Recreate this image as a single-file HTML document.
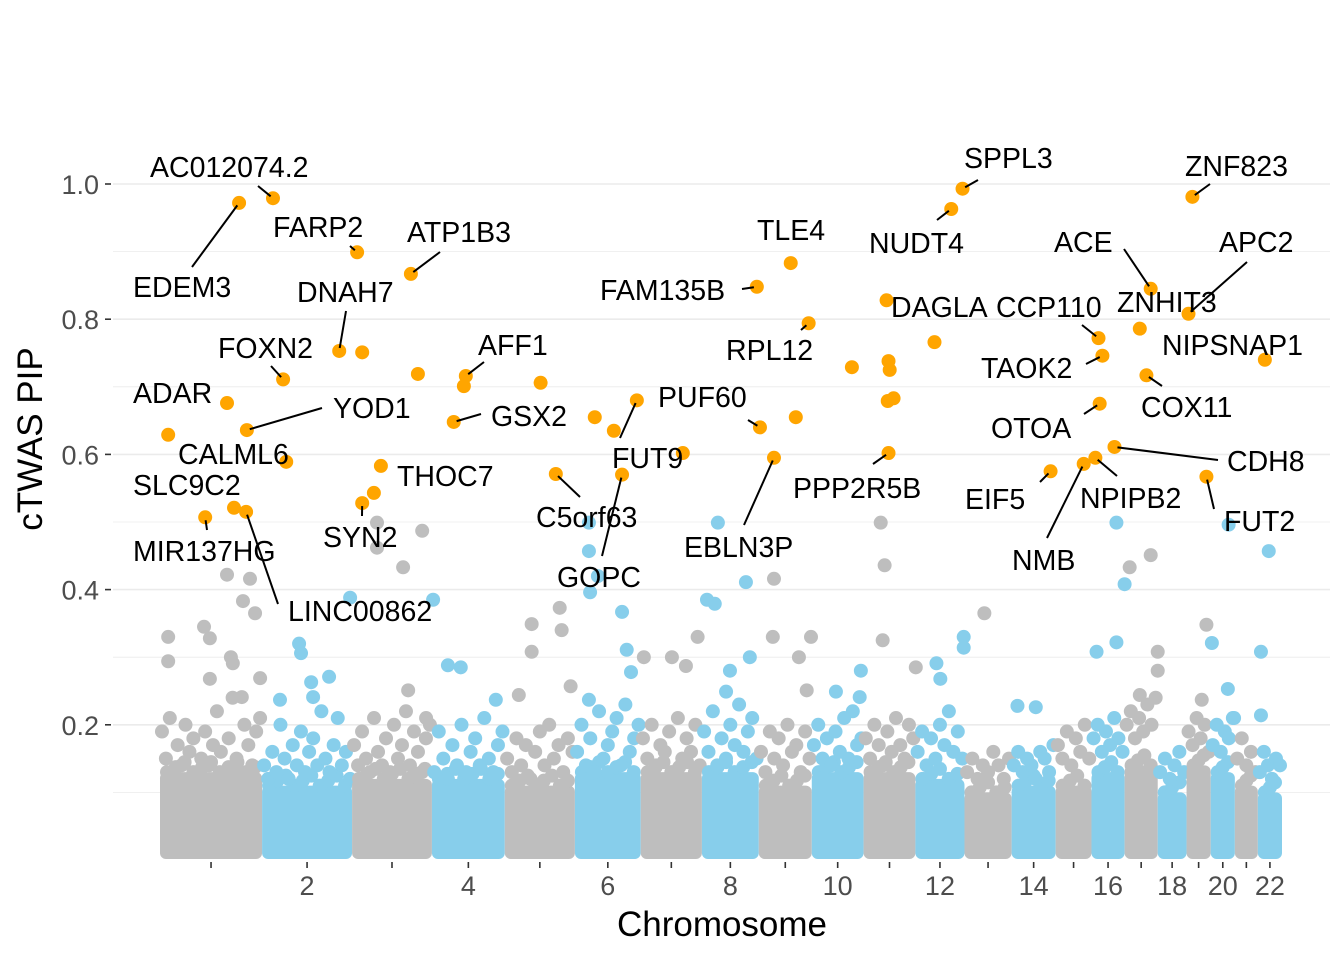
<!DOCTYPE html>
<html><head><meta charset="utf-8"><style>
html,body{margin:0;padding:0;background:#fff;}
svg{display:block;font-family:"Liberation Sans",sans-serif;}
</style></head><body>
<svg id="chart" width="1344" height="960" viewBox="0 0 1344 960" xmlns="http://www.w3.org/2000/svg">
<g id="grid"></g>
<g id="marks"></g>
<g id="labels"></g>
<g id="axes"></g>
<text x="722" y="936" font-size="35" text-anchor="middle" fill="#000">Chromosome</text>
<text transform="translate(42,439) rotate(-90)" font-size="35" text-anchor="middle" fill="#000">cTWAS PIP</text>
</svg>
<script>
const chrLen=[262,231,205,187,180,169,157,146,136,133,133,126,121,113,92,85,85,74,62,62,59,62];
const chrTickLabels=["","2","","4","","6","","8","","10","","12","","14","","16","","18","","20","","22"];
const yTicks=[0.2,0.4,0.6,0.8,1.0];
const yTickLabels=["0.2","0.4","0.6","0.8","1.0"];
const bandTop=[.13,.11,.12,.12,.11,.13,.13,.13,.11,.13,.13,.12,.10,.11,.11,.13,.14,.10,.14,.13,.11,.10];
const midVals=[
[.19,.15,.21,.13,.17,.14,.2,.16,.18,.13,.15,.19,.14,.17,.22,.16,.12,.18,.24,.15,.13,.2,.17,.14,.19,.21],
[.14,.12,.16,.13,.2,.15,.12,.17,.14,.19,.13,.16,.18,.14,.22,.15,.13,.17,.21,.14,.16,.12],
[.17,.14,.19,.15,.13,.21,.16,.14,.18,.13,.2,.15,.17,.22,.14,.19,.16,.13,.18,.2],
[.13,.19,.15,.12,.17,.14,.2,.13,.16,.18,.14,.21,.15,.13,.17,.19],
[.15,.13,.18,.14,.17,.12,.16,.19,.14,.2,.15,.17,.13,.18,.16],
[.16,.2,.14,.18,.13,.22,.15,.17,.19,.21,.14,.23,.16,.18,.2],
[.18,.15,.2,.14,.17,.16,.19,.13,.21,.15,.18,.16,.2,.14],
[.19,.16,.22,.14,.18,.15,.2,.17,.23,.16,.19,.21,.15],
[.16,.13,.19,.15,.18,.14,.2,.16,.17,.13,.19,.15],
[.17,.2,.15,.18,.14,.19,.16,.21,.15,.22,.17,.18],
[.18,.15,.2,.17,.14,.19,.16,.21,.17,.15,.2,.18],
[.16,.19,.14,.18,.15,.2,.17,.22,.16,.19,.15],
[.13,.15,.12,.14,.13,.16,.14,.12,.15],
[.14,.16,.13,.15,.14,.12,.16,.15,.13,.17],
[.17,.15,.19,.14,.18,.16,.2,.15],
[.18,.2,.16,.19,.17,.21,.18,.16],
[.2,.22,.18,.21,.19,.23,.2,.24],
[.13,.15,.12,.14,.16,.13],
[.19,.17,.21,.18,.2,.16],
[.17,.2,.16,.19,.18,.21],
[.15,.18,.14,.16,.13],
[.13,.16,.14,.12,.15,.14]
];
const bgChr=[3,3,3,3,1,1,1,1,1,1,1,1,1,1,1,2,4,6,6,6,6,6,8,8,8,8,11,11,16,17,16,17,20,22,22,20,19,16,16,13,12,12,11,10,9,9,9,8,8,8,2,2,5,5,5,5,2,2,2,2,4,4,6,6,7,7,7,7,9,10,11,12,12,14,14,17,17,17,20,19,22,20,10,9,5,6,5,4,3,3,1,1];
const bgPos=[64,64,180,131,172,231,213,244,21,21,113,128,128,182,187,226,3,36,36,39,59,121,41,113,13,33,44,54,64,13,85,67,46,28,8,3,51,64,13,51,124,124,49,126,134,39,36,123,72,62,95,100,69,69,141,146,172,46,131,126,41,74,144,133,8,80,146,116,103,62,134,54,64,15,62,85,85,39,44,39,8,60,123,123,169,36,36,164,144,190,210,257];
const bgPip=[.499,.462,.487,.433,.422,.416,.383,.365,.330,.294,.345,.328,.268,.300,.291,.388,.385,.499,.457,.396,.420,.367,.499,.411,.385,.379,.499,.436,.499,.433,.408,.451,.496,.457,.308,.321,.348,.322,.308,.365,.330,.314,.325,.280,.330,.416,.330,.300,.280,.249,.320,.306,.349,.308,.373,.340,.271,.237,.241,.263,.288,.285,.278,.311,.300,.300,.330,.287,.300,.249,.285,.291,.268,.228,.226,.308,.280,.244,.253,.237,.214,.210,.241,.251,.257,.237,.244,.237,.251,.210,.241,.269];
const sigChr=[1,2,3,3,2,3,2,3,4,4,5,1,1,4,1,2,3,3,3,1,1,1,6,6,6,7,5,6,8,9,9,9,9,9,10,11,11,11,11,11,11,12,12,12,19,17,19,17,16,16,22,17,16,16,14,15,16,19];
const sigPos=[203,28,13,151,198,26,54,169,87,82,92,172,223,56,21,62,74,56,26,190,221,116,51,159,100,108,131,121,141,82,128,95,39,3,103,59,64,67,62,77,64,49,92,121,15,67,5,39,18,28,18,56,21,59,100,72,10,51];
const sigPip=[.972,.979,.899,.867,.753,.751,.711,.719,.716,.701,.706,.676,.636,.648,.629,.589,.583,.543,.528,.521,.515,.507,.655,.680,.635,.602,.571,.570,.848,.883,.794,.655,.595,.640,.729,.828,.738,.725,.679,.683,.602,.766,.963,.993,.981,.845,.808,.786,.772,.746,.740,.717,.675,.611,.575,.586,.595,.567];
const sigGene=["EDEM3","AC012074.2","FARP2","ATP1B3","DNAH7","","FOXN2","","AFF1","","","ADAR","YOD1","GSX2","","CALML6","THOC7","","SYN2","SLC9C2","LINC00862","MIR137HG","","FUT9","","","C5orf63","GOPC","FAM135B","TLE4","RPL12","","EBLN3P","PUF60","","DAGLA","","","","","PPP2R5B","","NUDT4","SPPL3","ZNF823","ACE","APC2","ZNHIT3","CCP110","TAOK2","NIPSNAP1","COX11","OTOA","CDH8","EIF5","NMB","NPIPB2","FUT2"];
const labelLayout={
"EDEM3":[133,287,192,267],"AC012074.2":[150,167,258,186],"FARP2":[273,227,350,246],"ATP1B3":[407,232,440,252],
"DNAH7":[297,292,346,311],"FOXN2":[218,348,271,366],"AFF1":[478,345,484,362],"ADAR":[133,393,null,null],
"YOD1":[333,408,322,408],"GSX2":[491,416,481,414],"CALML6":[178,454,null,null],"THOC7":[397,476,null,null],
"SLC9C2":[133,485,null,null],"SYN2":[323,537,362,516],"MIR137HG":[133,551,207,530],"LINC00862":[288,611,278,604],
"C5orf63":[536,517,580,497],"GOPC":[557,577,602,556],"FUT9":[612,458,620,438],"PUF60":[658,397,748,420],
"FAM135B":[600,290,742,289],"TLE4":[757,230,null,null],"RPL12":[726,350,801,330],"EBLN3P":[684,547,744,525],
"PPP2R5B":[793,488,873,464],"NUDT4":[869,243,937,220],"SPPL3":[964,158,978,180],"DAGLA":[891,307,null,null],
"CCP110":[996,307,1082,325],"ACE":[1054,242,1124,249],"ZNHIT3":[1117,302,null,null],"APC2":[1219,242,1247,262],
"ZNF823":[1185,166,1210,184],"NIPSNAP1":[1162,345,null,null],"TAOK2":[981,368,1086,364],"COX11":[1141,407,1162,386],
"OTOA":[991,428,1084,414],"CDH8":[1227,461,1218,460],"EIF5":[965,499,1040,482],"NPIPB2":[1080,498,1117,476],
"FUT2":[1224,521,1214,509],"NMB":[1012,560,1047,538]
};
const NS="http://www.w3.org/2000/svg";
const X0=160,X1=1282,Y0=860,Y1=184;
const total=chrLen.reduce((a,b)=>a+b,0);
const chrStart=[];let acc=0;for(const l of chrLen){chrStart.push(acc);acc+=l;}
const xs=(c,p)=>X0+(chrStart[c-1]+p)/total*(X1-X0);
const ys=v=>Y0-(v)*(Y0-Y1);
const col=c=>c%2===0?"#87CEEB":"#BEBEBE";
function el(tag,attrs,parent){const e=document.createElementNS(NS,tag);for(const k in attrs)e.setAttribute(k,attrs[k]);parent.appendChild(e);return e;}
const grid=document.getElementById("grid"),marks=document.getElementById("marks"),labels=document.getElementById("labels"),axes=document.getElementById("axes");
for(let k=1;k<=10;k++){
  const v=k/10,major=k%2===0;
  const g=el("line",{x1:113,x2:1330,y1:ys(v),y2:ys(v),stroke:"#EBEBEB","stroke-width":major?1.6:0.8},grid);
  
  
}
yTicks.forEach((v,i)=>{
  const t=el("line",{x1:105,x2:111,y1:ys(v),y2:ys(v),stroke:"#333","stroke-width":1.6},axes);
  
  
  const tx=el("text",{x:99,y:ys(v)+10,"font-size":27,"text-anchor":"end",fill:"#4D4D4D"},axes);
  tx.textContent=yTickLabels[i];
  
  
});
chrLen.forEach((l,i)=>{
  const cx=xs(i+1,l/2);
  const t=el("line",{x1:cx,x2:cx,y1:862,y2:868,stroke:"#333","stroke-width":1.6},axes);
  
  
  if(chrTickLabels[i]){
    const tx=el("text",{x:cx,y:895,"font-size":27,"text-anchor":"middle",fill:"#4D4D4D"},axes);
    tx.textContent=chrTickLabels[i];
    
    
  }
});
const R=7;
chrLen.forEach((l,i)=>{
  const c=i+1,xa=xs(c,0),xb=xs(c,l);
  const top=ys(bandTop[i]);
  const r=el("rect",{x:xa,y:top,width:xb-xa,height:Y0-1-top,rx:6,fill:col(c)},marks);
  
  
  const n=Math.max(2,Math.round((xb-xa)/9));
  for(let j=0;j<n;j++){
    const d=el("circle",{cx:xa+R+(xb-xa-2*R)*j/(n-1),cy:top-(j%3)*5,r:R,fill:col(c)},marks);
    
    
  }
  const m=midVals[i];
  m.forEach((v,j)=>{
    const p=l*(j+0.5)/m.length;
    const d=el("circle",{cx:xs(c,p),cy:ys(v),r:R,fill:col(c)},marks);
    
    
  });
});
bgChr.forEach((c,i)=>{
  const d=el("circle",{cx:xs(c,bgPos[i]),cy:ys(bgPip[i]),r:R,fill:col(c)},marks);
  
  
});
sigChr.forEach((c,i)=>{
  const d=el("circle",{cx:xs(c,sigPos[i]),cy:ys(sigPip[i]),r:R,fill:"#FFA500"},marks);
  
  
});
sigGene.forEach((g,i)=>{
  if(!g||!labelLayout[g])return;
  const L=labelLayout[g];
  const px=xs(sigChr[i],sigPos[i]),py=ys(sigPip[i]);
  if(L[2]!==null){
    const dx=L[2]-px,dy=L[3]-py,len=Math.hypot(dx,dy);
    const s=el("line",{x1:px+dx/len*3,y1:py+dy/len*3,x2:L[2],y2:L[3],stroke:"#000","stroke-width":2},labels);
    
    
  }
  const t=el("text",{x:L[0],y:L[1]+10,"font-size":28.5,fill:"#000"},labels);
  t.textContent=g;
  
  
});
</script>
</body></html>
